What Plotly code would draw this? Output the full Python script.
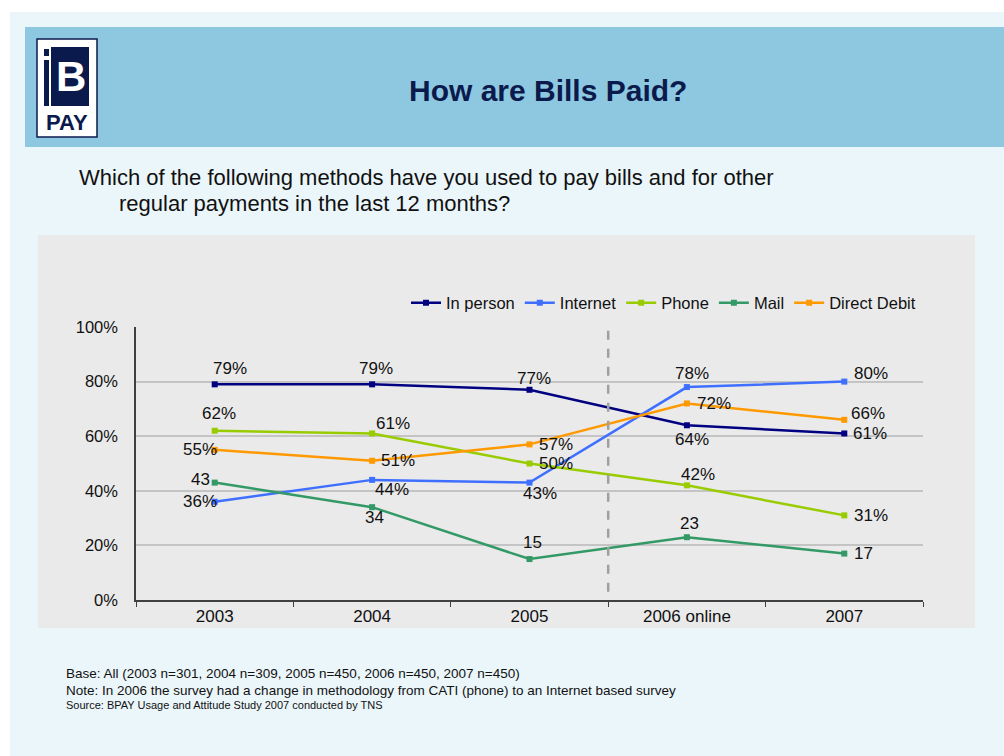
import plotly.graph_objects as go

categories = ["2003", "2004", "2005", "2006 online", "2007"]
in_person = [79, 79, 77, 64, 61]
internet = [36, 44, 43, 78, 80]
phone = [62, 61, 50, 42, 31]
mail = [43, 34, 15, 23, 17]
direct_debit = [55, 51, 57, 72, 66]

y_ticks = [0, 20, 40, 60, 80, 100]
y_tick_labels = ["0%", "20%", "40%", "60%", "80%", "100%"]

# label offsets (pixels: dx right, dy up) per point
off_in_person = [(15, 16), (4, 16), (4, 11), (5, -14), (26, 0)]
off_internet = [(-15, 0), (20, -10), (10, -11), (5, 14), (27, 8)]
off_phone = [(4, 17), (21, 10), (26, 0), (11, 11), (27, 0)]
off_mail = [(-14, 3), (2, -10), (3, 17), (3, 14), (19, 0)]
off_dd = [(-15, 0), (26, 0), (26, 0), (27, 0), (24, 6)]

series = [
    ("In person", in_person, "#000080", "%", off_in_person),
    ("Internet", internet, "#3F6FFF", "%", off_internet),
    ("Phone", phone, "#99CC00", "%", off_phone),
    ("Mail", mail, "#339966", "", off_mail),
    ("Direct Debit", direct_debit, "#FF9900", "%", off_dd),
]

FONT = "Liberation Sans, Arial"
W, H = 1004, 756
L, R, T, B = 136, 923, 327, 600


def px(x):
    return (x - L) / (R - L)


def py(y):
    return (B - y) / (B - T)


fig = go.Figure()
annos = []
for name, vals, color, suf, offs in series:
    fig.add_trace(go.Scatter(
        x=categories, y=vals, name=name, mode="lines+markers",
        line=dict(color=color, width=2.5),
        marker=dict(symbol="square", size=6, color=color),
    ))
    for i, (v, (dx, dy)) in enumerate(zip(vals, offs)):
        annos.append(dict(x=i, y=v, xref="x", yref="y", text=f"{v}{suf}", showarrow=False,
                          xshift=dx, yshift=dy, xanchor="center", yanchor="middle",
                          font=dict(family=FONT, size=17, color="#111111")))

shapes = [
    dict(type="rect", xref="paper", yref="paper", x0=px(10), x1=px(1004), y0=py(756), y1=py(12),
         fillcolor="#EBF6FA", line=dict(width=0), layer="below"),
    dict(type="rect", xref="paper", yref="paper", x0=px(25), x1=px(1004), y0=py(147), y1=py(27),
         fillcolor="#8DC7E0", line=dict(width=0), layer="below"),
    dict(type="rect", xref="paper", yref="paper", x0=px(38), x1=px(975), y0=py(628), y1=py(235),
         fillcolor="#EAEAEA", line=dict(width=0), layer="below"),
    # logo
    dict(type="rect", xref="paper", yref="paper", x0=px(37), x1=px(97), y0=py(137), y1=py(39),
         fillcolor="white", line=dict(color="#0B1A4C", width=1.5)),
    dict(type="rect", xref="paper", yref="paper", x0=px(51), x1=px(89), y0=py(106), y1=py(47),
         fillcolor="#0B1A4C", line=dict(width=0)),
    dict(type="rect", xref="paper", yref="paper", x0=px(44), x1=px(49), y0=py(106), y1=py(60),
         fillcolor="#0B1A4C", line=dict(width=0)),
    dict(type="rect", xref="paper", yref="paper", x0=px(44), x1=px(49), y0=py(56), y1=py(49),
         fillcolor="#0B1A4C", line=dict(width=0)),
    # methodology change divider
    dict(type="line", xref="x", yref="y", x0=2.5, x1=2.5, y0=3, y1=105,
         line=dict(color="#A0A0A0", width=2.5, dash="dash")),
]

page_texts = [
    dict(text="<b>How are Bills Paid?</b>", x=px(548), y=py(90), xanchor="center",
         font=dict(family=FONT, size=30, color="#0B1A4C")),
    dict(text="<b>B</b>", x=px(71), y=py(77), xanchor="center",
         font=dict(family=FONT, size=42, color="white")),
    dict(text="<b>PAY</b>", x=px(67), y=py(122), xanchor="center",
         font=dict(family=FONT, size=22, color="#0B1A4C")),
    dict(text="Which of the following methods have you used to pay bills and for other",
         x=px(77), y=py(178), xanchor="left",
         font=dict(family=FONT, size=22, color="#111111")),
    dict(text="regular payments in the last 12 months?",
         x=px(117), y=py(203), xanchor="left",
         font=dict(family=FONT, size=22, color="#111111")),
    dict(text="Base: All (2003 n=301, 2004 n=309, 2005 n=450, 2006 n=450, 2007 n=450)",
         x=px(64), y=py(673), xanchor="left",
         font=dict(family=FONT, size=13.5, color="#111111")),
    dict(text="Note: In 2006 the survey had a change in methodology from CATI (phone) to an Internet based survey",
         x=px(64), y=py(690), xanchor="left",
         font=dict(family=FONT, size=13.5, color="#111111")),
    dict(text="Source: BPAY Usage and Attitude Study 2007 conducted by TNS",
         x=px(64), y=py(705), xanchor="left",
         font=dict(family=FONT, size=11, color="#111111")),
]
for a in page_texts:
    a.update(xref="paper", yref="paper", showarrow=False, yanchor="middle")
annos.extend(page_texts)

fig.update_layout(
    width=W, height=H,
    margin=dict(l=L, r=W - R, t=T, b=H - B, pad=0),
    paper_bgcolor="white",
    plot_bgcolor="#EAEAEA",
    font=dict(family=FONT, size=16, color="#111111"),
    showlegend=True,
    legend=dict(orientation="h", x=px(921), xanchor="right", y=py(303), yanchor="middle",
                bgcolor="rgba(0,0,0,0)", font=dict(size=16.5, color="#111111"),
                itemwidth=30, tracegroupgap=0),
    xaxis=dict(type="category", range=[-0.5, 4.5], showgrid=False, showline=True,
               linecolor="#404040", linewidth=1.5, ticks="outside", tickson="boundaries",
               ticklen=5, tickcolor="#404040", tickfont=dict(size=17), fixedrange=True),
    yaxis=dict(range=[0, 100], tickmode="array", tickvals=y_ticks, ticktext=y_tick_labels,
               showgrid=True, gridcolor="#C4C4C4", gridwidth=2, showline=True,
               linecolor="#404040", linewidth=1.5, zeroline=False, tickfont=dict(size=16.5),
               ticks="", ticklabelstandoff=13, fixedrange=True),
    shapes=shapes,
    annotations=annos,
)

fig.write_html("out.html")
